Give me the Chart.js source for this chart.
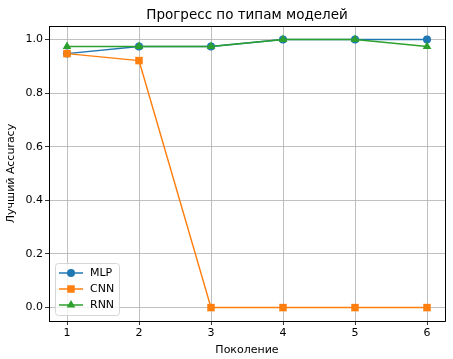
<!DOCTYPE html>
<html>
<head>
<meta charset="utf-8">
<script src="https://cdn.jsdelivr.net/npm/chart.js@4"></script>
<style>
  html, body { margin: 0; padding: 0; background: #fff; }
  #wrap { width: 453px; height: 359px; }
</style>
</head>
<body>
<div id="wrap"><canvas id="chart" width="453" height="359"></canvas></div>
<script>
const generations = [1, 2, 3, 4, 5, 6];
const mlp = [0.947, 0.974, 0.974, 1.0, 1.0, 1.0];
const cnn = [0.947, 0.921, 0.0, 0.0, 0.0, 0.0];
const rnn = [0.974, 0.974, 0.974, 1.0, 1.0, 0.974];
const yTicks = [0.0, 0.2, 0.4, 0.6, 0.8, 1.0];
const titleText = 'Прогресс по типам моделей';

const FONT = 'DejaVu Sans, sans-serif';

const toPoints = vals => vals.map((v, i) => ({ x: generations[i], y: v }));

function series(label, vals, color, style, radius, order) {
  return {
    label,
    data: toPoints(vals),
    borderColor: color,
    backgroundColor: color,
    borderWidth: 1.5,
    pointStyle: style,
    pointRadius: radius,
    pointHoverRadius: radius,
    pointBorderWidth: 0,
    tension: 0,
    order,
  };
}

// title centred over the plot, top/right frame and in-plot legend (matplotlib look)
const mplBits = {
  id: 'mplBits',
  afterDraw(chart) {
    const { ctx, chartArea: a } = chart;
    ctx.save();
    ctx.fillStyle = '#000';
    ctx.font = '13.5px ' + FONT;
    ctx.textAlign = 'center';
    ctx.textBaseline = 'alphabetic';
    ctx.fillText(titleText, (a.left + a.right) / 2, 19);

    ctx.strokeStyle = '#000';
    ctx.lineWidth = 1;
    ctx.beginPath();
    ctx.moveTo(a.left, a.top + 0.5);
    ctx.lineTo(a.right + 0.5, a.top + 0.5);
    ctx.lineTo(a.right + 0.5, a.bottom);
    ctx.stroke();

    const x = a.left + 6, y = a.bottom - 58;
    const w = 64, h = 52;
    ctx.fillStyle = 'rgba(255,255,255,0.8)';
    ctx.strokeStyle = '#d6d6d6';
    ctx.beginPath();
    ctx.roundRect(x + 0.5, y + 0.5, w, h, 3);
    ctx.fill();
    ctx.stroke();
    ctx.font = '11px ' + FONT;
    ctx.textAlign = 'left';
    ctx.textBaseline = 'middle';
    chart.data.datasets.forEach((ds, i) => {
      const ly = y + 10 + i * 16;
      ctx.strokeStyle = ds.borderColor;
      ctx.lineWidth = 1.5;
      ctx.beginPath();
      ctx.moveTo(x + 4, ly);
      ctx.lineTo(x + 28, ly);
      ctx.stroke();
      ctx.fillStyle = ds.borderColor;
      Chart.helpers.drawPoint(ctx, { pointStyle: ds.pointStyle, radius: ds.pointRadius, borderWidth: 0 }, x + 16, ly);
      ctx.fillStyle = '#000';
      ctx.fillText(ds.label, x + 35, ly + 0.5);
    });
    ctx.restore();
  }
};

new Chart(document.getElementById('chart'), {
  type: 'line',
  data: {
    datasets: [
      series('MLP', mlp, '#1f77b4', 'circle', 4, 3),
      series('CNN', cnn, '#ff7f0e', 'rect', 5.3, 2),
      series('RNN', rnn, '#2ca02c', 'triangle', 5, 1),
    ],
  },
  options: {
    responsive: false,
    animation: false,
    layout: { padding: { left: 0, right: 8, top: 26, bottom: 0 } },
    plugins: {
      legend: { display: false },
      tooltip: { enabled: false },
      title: { display: false },
    },
    scales: {
      x: {
        type: 'linear',
        min: 0.75,
        max: 6.25,
        afterBuildTicks: s => { s.ticks = generations.map(v => ({ value: v })); },
        afterFit: s => { s.height = 38; },
        ticks: { color: '#000', font: { family: FONT, size: 11 }, padding: 2 },
        grid: { color: '#b0b0b0', lineWidth: 0.8, tickLength: 4, tickColor: '#000' },
        border: { color: '#000', width: 1 },
        title: { display: true, text: 'Поколение', color: '#000', font: { family: FONT, size: 11 }, padding: { top: 0, bottom: 2 } },
      },
      y: {
        min: -0.05,
        max: 1.05,
        afterBuildTicks: s => { s.ticks = yTicks.map(v => ({ value: v })); },
        afterFit: s => { s.width = 49; },
        ticks: { color: '#000', font: { family: FONT, size: 11 }, padding: 2, callback: v => v.toFixed(1) },
        grid: { color: '#b0b0b0', lineWidth: 0.8, tickLength: 4, tickColor: '#000' },
        border: { color: '#000', width: 1 },
        title: { display: true, text: 'Лучший Accuracy', color: '#000', font: { family: FONT, size: 11 }, padding: { top: 5, bottom: 0 } },
      },
    },
  },
  plugins: [mplBits],
});
</script>
</body>
</html>
